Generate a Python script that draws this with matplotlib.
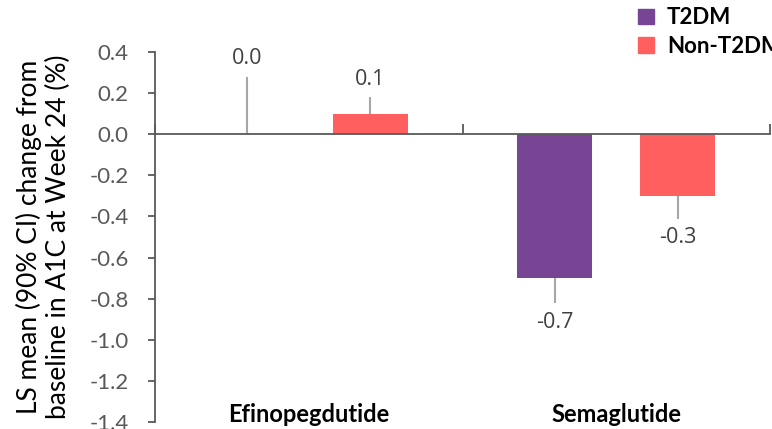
import matplotlib.pyplot as plt
import numpy as np
from matplotlib.patches import Patch

## data
drugs = ['Efinopegdutide', 'Semaglutide']
groups = ['T2DM', 'Non-T2DM']
t2dm = [0.0, -0.7]
non_t2dm = [0.1, -0.3]
# one-sided 90% CI ends (upper end for positive bars, lower end for negative)
t2dm_ci = [0.28, -0.82]
non_t2dm_ci = [0.18, -0.41]
yticks = [0.4, 0.2, 0.0, -0.2, -0.4, -0.6, -0.8, -1.0, -1.2, -1.4]

colors = ['#774593', '#FF5F5F']
grey = '#595959'

fig = plt.figure(figsize=(7.72, 4.29), dpi=100)
ax = fig.add_axes([155 / 772, 1 - 422 / 429, (770 - 155) / 772, (422 - 52) / 429])

x = np.arange(len(drugs))
offset = 0.2
width = 0.245

for i, (vals, ci) in enumerate([(t2dm, t2dm_ci), (non_t2dm, non_t2dm_ci)]):
    pos = x + (i * 2 - 1) * offset
    ax.bar(pos, vals, width=width, color=colors[i], zorder=2)
    vals = np.array(vals)
    ci = np.array(ci)
    lower = np.where(vals < 0, vals - ci, 0)
    upper = np.where(vals >= 0, ci - vals, 0)
    ax.errorbar(pos, vals, yerr=[lower, upper], fmt='none', ecolor='#A6A6A6',
                elinewidth=1.5, capsize=0, zorder=1)
    for p, v, c in zip(pos, vals, ci):
        dy = 13 if v >= 0 else -14
        ax.annotate(f'{v:.1f}', (p, c), xytext=(0, dy), textcoords='offset points',
                    ha='center', va='center', fontsize=15.5, color='#404040',
                    family='Open Sans')

ax.set_xlim(-0.5, 1.5)
ax.set_ylim(-1.4, 0.4)
ax.set_yticks(yticks)
ax.set_yticklabels([f'{t:.1f}' for t in yticks], family='Lato')
ax.tick_params(axis='y', direction='out', length=5, width=1.3, color=grey,
               labelcolor=grey, labelsize=16, pad=14)

ax.set_xticks([-0.5, 0.5, 1.5])
ax.set_xticklabels([])
ax.tick_params(axis='x', direction='in', length=7, width=1.3, color=grey)

ax.spines['top'].set_visible(False)
ax.spines['right'].set_visible(False)
ax.spines['bottom'].set_position(('data', 0))
for s in ['left', 'bottom']:
    ax.spines[s].set_color(grey)
    ax.spines[s].set_linewidth(1.3)
    ax.spines[s].set_zorder(3)

for xi, name in zip(x, drugs):
    ax.text(xi, 0.02, name, transform=ax.get_xaxis_transform(), ha='center',
            va='center', fontsize=17, fontweight='bold', family='Lato')

ax.set_ylabel('LS mean (90% CI) change from\nbaseline in A1C at Week 24 (%)',
              fontsize=19, family='Lato', color='#000000', labelpad=13,
              linespacing=1.2)

handles = [Patch(color=c) for c in colors]
fig.legend(handles, groups, loc='upper left', bbox_to_anchor=(618 / 772, 1.03),
           frameon=False, handlelength=0.7, handleheight=0.7, handletextpad=0.6,
           labelspacing=0.35, prop={'family': 'Lato', 'weight': 'bold', 'size': 16})

fig.savefig('out.png', dpi=100)
